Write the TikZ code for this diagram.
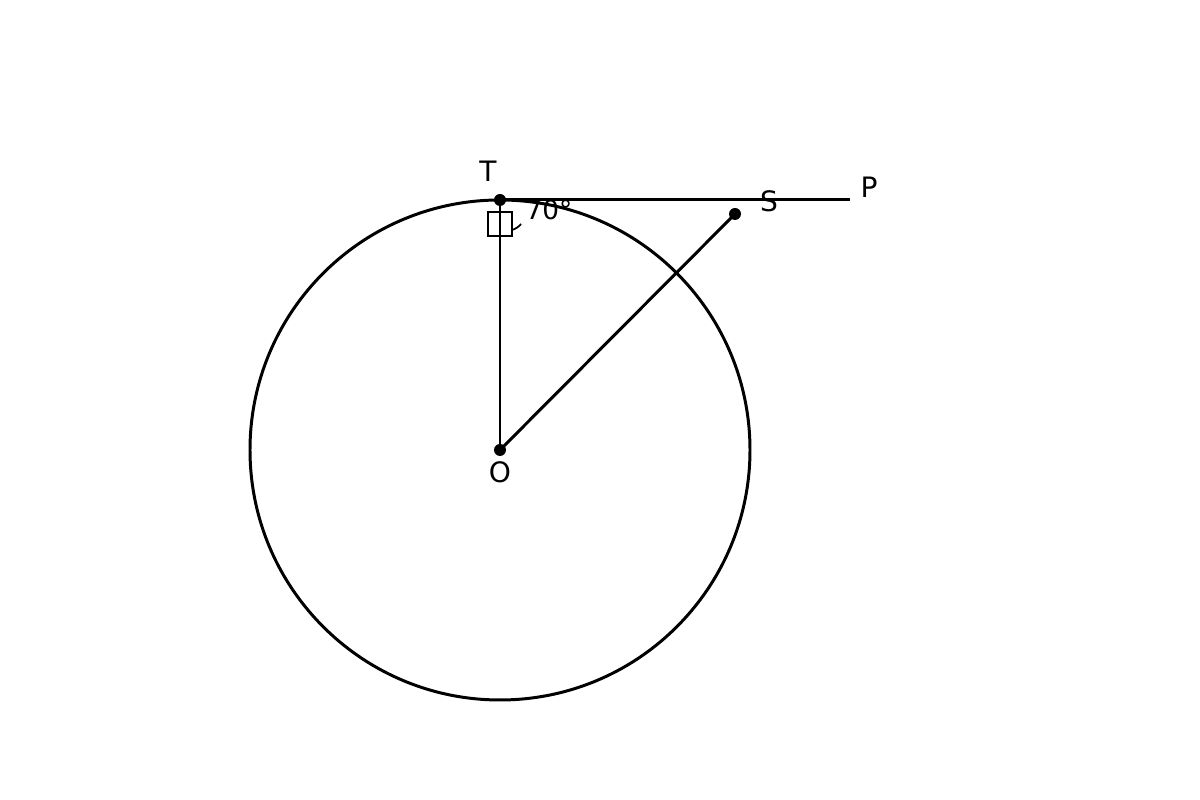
\documentclass[tikz,border=0pt]{standalone}
\usepackage{amsmath}
\usepackage{fontspec}
\setmainfont{DejaVu Sans}

\begin{document}
\begin{tikzpicture}[line width=0.85pt,
    lbl/.style={font=\fontsize{8}{10}\selectfont, inner sep=0pt},
    dot/.style={circle, fill=black, inner sep=0pt, minimum size=0.12cm}]
        \useasboundingbox (0,0) rectangle (12,8);
        \coordinate (O) at (5,3.5);
        \coordinate (T) at (5,6);
        \coordinate (P) at (8.5,6);
        \coordinate (S) at (7.35,5.86);
        \draw (O) circle (2.5);
        \draw (T)--(P);
        \draw (O)--(T);
        \draw (O)--(S);
        \draw[line width=0.5pt] (4.88,5.64) rectangle (5.12,5.88);
        \draw[line width=0.5pt] (5.12,5.7) to[bend right=15] (5.21,5.76);
        \node[dot] (dotO) at (O){};
        \node[dot] (dotT) at (T){};
        \node[dot] (dotS) at (S){};
        \node[lbl] (labT) at (4.88,6.29){T};
        \node[lbl] (labS) at (7.69,5.99){S};
        \node[lbl] (labP) at (8.69,6.13){P};
        \node[lbl] (labO) at (5.0,3.28){O};
        \node[lbl, font=\fontsize{7.5}{9}\selectfont] (ang) at (5.49,5.9){70°};
    \end{tikzpicture}
\end{document}
